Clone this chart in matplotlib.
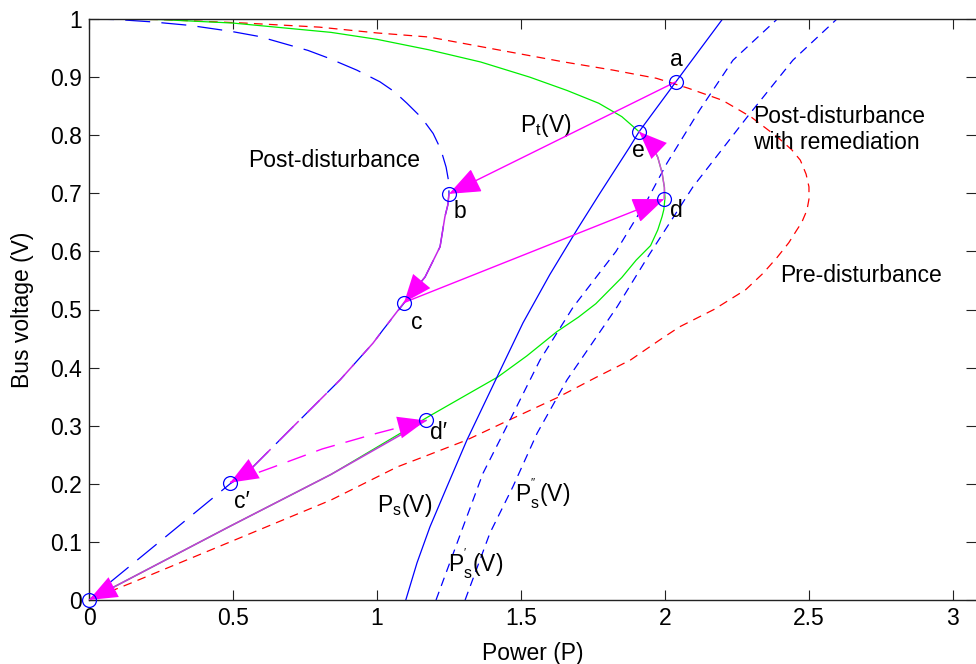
import matplotlib
matplotlib.use("Agg")
import matplotlib.pyplot as plt

plt.rcParams['font.family'] = ['Liberation Sans', 'DejaVu Sans']
plt.rcParams['mathtext.fontset'] = 'custom'
plt.rcParams['mathtext.rm'] = 'Liberation Sans'
plt.rcParams['mathtext.it'] = 'Liberation Sans:italic'

# ---------------- data ----------------
# Pre-disturbance PV curve (red dashed)
pre_P = [0.00, 0.25, 0.54, 0.80, 1.00, 1.18, 1.42, 1.65, 1.82, 1.97, 2.08, 2.20, 2.30, 2.39,
         2.44, 2.47, 2.49, 2.50, 2.50, 2.493, 2.475, 2.458, 2.43, 2.39, 2.34, 2.28, 2.17, 2.05,
         1.98, 1.93, 1.88, 1.76, 1.625, 1.46, 1.31, 1.17, 1.07, 0.84, 0.50, 0.15, 0.00]
pre_V = [1.000, 0.999, 0.993, 0.986, 0.976, 0.969, 0.947, 0.926, 0.912, 0.898, 0.881, 0.860,
         0.831, 0.797, 0.775, 0.757, 0.733, 0.711, 0.690, 0.671, 0.650, 0.637, 0.615, 0.590,
         0.562, 0.534, 0.500, 0.470, 0.447, 0.430, 0.413, 0.383, 0.348, 0.310, 0.275, 0.248,
         0.229, 0.172, 0.102, 0.030, 0.000]

# Post-disturbance with remediation (green solid)
rem_P = [0.00, 0.25, 0.50, 0.84, 1.00, 1.18, 1.36, 1.53, 1.66, 1.77, 1.85, 1.91, 1.95, 1.975,
         1.99, 1.998, 2.00, 1.996, 1.99, 1.975, 1.95, 1.90, 1.85, 1.76, 1.70, 1.625, 1.52,
         1.42, 1.30, 1.18, 0.84, 0.49, 0.00]
rem_V = [1.000, 0.999, 0.993, 0.977, 0.965, 0.947, 0.926, 0.900, 0.877, 0.855, 0.832, 0.806,
         0.787, 0.762, 0.735, 0.710, 0.692, 0.672, 0.660, 0.637, 0.610, 0.585, 0.555, 0.510,
         0.487, 0.462, 0.420, 0.384, 0.350, 0.316, 0.216, 0.127, 0.000]

# Post-disturbance (blue long dashes)
post_P = [0.00, 0.10, 0.22, 0.35, 0.49, 0.59, 0.675, 0.76, 0.83, 0.93, 1.01, 1.06, 1.104,
          1.155, 1.195, 1.222, 1.240, 1.249, 1.25, 1.246, 1.236, 1.219, 1.167, 1.094, 1.021,
          0.986, 0.872, 0.698, 0.549, 0.49, 0.21, 0.04, 0.00]
post_V = [1.000, 0.999, 0.995, 0.989, 0.979, 0.970, 0.958, 0.946, 0.933, 0.912, 0.892, 0.875,
          0.855, 0.830, 0.803, 0.775, 0.745, 0.720, 0.700, 0.680, 0.660, 0.608, 0.556, 0.511,
          0.465, 0.442, 0.379, 0.293, 0.219, 0.200, 0.086, 0.017, 0.000]

# Supply characteristics
ps_P = [1.10, 1.139, 1.184, 1.243, 1.312, 1.417, 1.507, 1.60, 1.694, 1.774, 1.878, 1.91, 2.038, 2.20]
ps_V = [0.000, 0.064, 0.126, 0.195, 0.275, 0.384, 0.477, 0.560, 0.637, 0.700, 0.780, 0.806, 0.892, 1.000]

ps1_P = [1.205, 1.299, 1.368, 1.462, 1.566, 1.681, 1.83, 1.938, 2.007, 2.12, 2.236, 2.39]
ps1_V = [0.000, 0.126, 0.218, 0.310, 0.413, 0.504, 0.600, 0.688, 0.752, 0.843, 0.929, 1.000]

ps2_P = [1.306, 1.392, 1.472, 1.556, 1.66, 1.833, 1.946, 2.097, 2.285, 2.444, 2.597]
ps2_V = [0.000, 0.115, 0.195, 0.287, 0.379, 0.504, 0.595, 0.711, 0.831, 0.929, 1.000]

# Marked operating points
pt_names = ['a', 'b', 'c', 'd', 'e', 'c\u2032', 'd\u2032', 'o']
pt_P = [2.038, 1.25, 1.094, 1.997, 1.91, 0.49, 1.17, 0.0]
pt_V = [0.892, 0.699, 0.512, 0.690, 0.806, 0.202, 0.309, 0.0]

# Trajectory segments (magenta)
tr_ab_P = [2.038, 1.25]
tr_ab_V = [0.892, 0.699]
tr_bc_P = [1.25, 1.246, 1.236, 1.219, 1.167, 1.094]
tr_bc_V = [0.699, 0.680, 0.660, 0.608, 0.556, 0.512]
tr_cd_P = [1.094, 1.997]
tr_cd_V = [0.512, 0.690]
tr_de_P = [1.997, 1.998, 1.99, 1.975, 1.95, 1.91]
tr_de_V = [0.690, 0.710, 0.735, 0.762, 0.787, 0.806]
tr_cc_P = [1.094, 1.021, 0.986, 0.872, 0.698, 0.549, 0.49]
tr_cc_V = [0.512, 0.465, 0.442, 0.379, 0.293, 0.219, 0.202]
tr_cd2_P = [0.49, 0.63, 0.81, 1.00, 1.17]
tr_cd2_V = [0.202, 0.227, 0.260, 0.287, 0.309]
tr_do_P = [1.17, 0.84, 0.49, 0.00]
tr_do_V = [0.309, 0.216, 0.127, 0.000]

x_ticks = [0, 0.5, 1, 1.5, 2, 2.5, 3]
x_tick_labels = ['0', '0.5', '1', '1.5', '2', '2.5', '3']
y_ticks = [0, 0.1, 0.2, 0.3, 0.4, 0.5, 0.6, 0.7, 0.8, 0.9, 1]
y_tick_labels = ['0', '0.1', '0.2', '0.3', '0.4', '0.5', '0.6', '0.7', '0.8', '0.9', '1']

# ---------------- figure ----------------
FS = 16.5
fig = plt.figure(figsize=(9.76, 6.64), dpi=100)
ax = fig.add_axes([89 / 976, 64 / 664, (976 - 89) / 976, 581 / 664])
ax.set_xlim(0, 3.08)
ax.set_ylim(0, 1)

lw = 0.9
ax.plot(pre_P, pre_V, color='#ff0000', lw=lw, dashes=(7, 5), zorder=2)
ax.plot(rem_P, rem_V, color='#00ee00', lw=lw, zorder=2)
ax.plot(post_P, post_V, color='#0000ff', lw=lw, dashes=(20, 9), zorder=2)
ax.plot(ps_P, ps_V, color='#0000ff', lw=lw, zorder=2)
ax.plot(ps1_P, ps1_V, color='#0000ff', lw=lw, dashes=(7, 5), zorder=2)
ax.plot(ps2_P, ps2_V, color='#0000ff', lw=lw, dashes=(7, 5), zorder=2)

MAG = '#ff00ff'
# trajectory lines
ax.plot(tr_bc_P, tr_bc_V, color='#c828e8', lw=1.1, zorder=3)
ax.plot(tr_de_P, tr_de_V, color='#d050d8', lw=1.1, zorder=3)
ax.plot(tr_cc_P, tr_cc_V, color='#c828e8', lw=1.1, dashes=(18, 8), zorder=3)
ax.plot(tr_cd2_P, tr_cd2_V, color=MAG, lw=1.0, dashes=(14, 8), zorder=3)
ax.plot(tr_do_P, tr_do_V, color='#c040d8', lw=1.2, zorder=3)


def head(P, V, full=False):
    """Arrow head at the end of a trajectory segment."""
    start = (P[0], V[0]) if full else (P[-2], V[-2])
    ax.annotate('', xy=(P[-1], V[-1]), xytext=start,
                arrowprops=dict(arrowstyle='-|>,head_length=0.8,head_width=0.32',
                                color=MAG, lw=1.0 if full else 0.01,
                                shrinkA=0, shrinkB=0, mutation_scale=25),
                zorder=4)


head(tr_ab_P, tr_ab_V, full=True)
head(tr_cd_P, tr_cd_V, full=True)
head(tr_bc_P, tr_bc_V)
head(tr_de_P, tr_de_V)
head(tr_cc_P, tr_cc_V)
head(tr_cd2_P, tr_cd2_V)
head(tr_do_P, tr_do_V)

# circles at operating points
ax.plot(pt_P, pt_V, linestyle='none', marker='o', markersize=10, markerfacecolor='none',
        markeredgecolor='#0000ff', markeredgewidth=0.9, zorder=5, clip_on=False)

# point labels
lab_pos = {'a': (2.038, 0.930), 'b': (1.288, 0.668), 'c': (1.139, 0.478), 'd': (2.04, 0.671),
           'e': (1.906, 0.773), 'c\u2032': (0.531, 0.169), 'd\u2032': (1.215, 0.289)}
for name in pt_names:
    if name in lab_pos:
        x, y = lab_pos[name]
        ax.text(x, y, name, fontsize=FS, ha='center', va='center', zorder=6)

# curve annotations
ax.text(0.552, 0.757, 'Post-disturbance', fontsize=FS, ha='left', va='center')
ax.text(2.306, 0.81, 'Post-disturbance\nwith remediation', fontsize=FS, ha='left',
        va='center', linespacing=1.15)
ax.text(2.40, 0.559, 'Pre-disturbance', fontsize=FS, ha='left', va='center')
ax.text(1.497, 0.805, r'$\mathregular{P_t(V)}$', fontsize=FS, ha='left', va='baseline')
ax.text(1.0, 0.151, r'$\mathregular{P_s(V)}$', fontsize=FS, ha='left', va='baseline')
ax.text(1.479, 0.167, r"$\mathregular{P^{''}_s(V)}$", fontsize=FS, ha='left', va='baseline')
ax.text(1.247, 0.048, r"$\mathregular{P^{'}_s(V)}$", fontsize=FS, ha='left', va='baseline')

# axes styling
ax.set_xticks(x_ticks)
ax.set_xticklabels(x_tick_labels)
ax.set_yticks(y_ticks)
ax.set_yticklabels(y_tick_labels)
ax.tick_params(direction='in', length=7, width=0.8, top=True, right=True,
               labelsize=FS, pad=5, colors='#222222', labelcolor='black')
ax.spines['right'].set_visible(False)
for s in ['left', 'bottom', 'top']:
    ax.spines[s].set_linewidth(1.0)
    ax.spines[s].set_color('#222222')
ax.set_xlabel('Power (P)', fontsize=FS, labelpad=9)
ax.set_ylabel('Bus voltage (V)', fontsize=FS, labelpad=12)

fig.savefig('out.png', dpi=100)
